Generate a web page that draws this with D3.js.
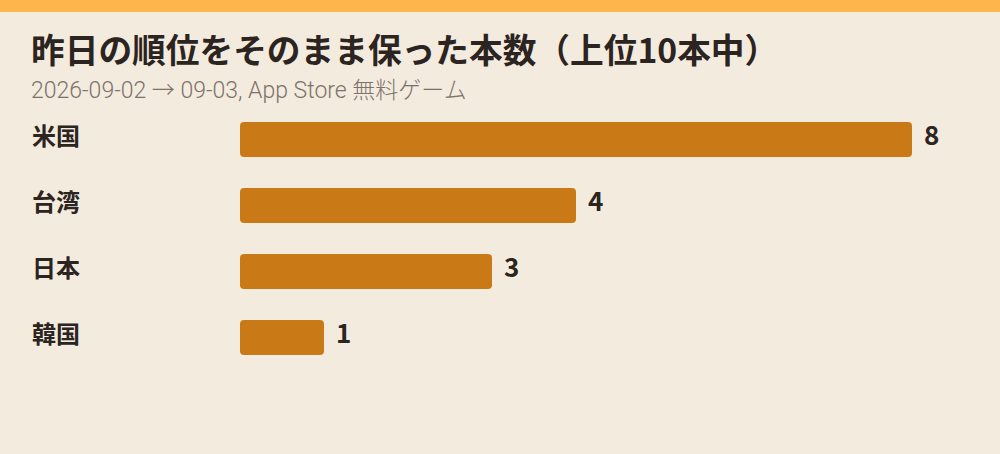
<!DOCTYPE html>
<html>
<head>
<meta charset="utf-8">
<script src="https://cdn.jsdelivr.net/npm/d3@7"></script>
<style>
  body { margin: 0; background: #f4ebdf; }
  svg { display: block; font-family: "Noto Sans CJK JP", "Noto Sans", sans-serif; }
</style>
</head>
<body>
<div id="chart"></div>
<script>
var countries = ["米国", "台湾", "日本", "韓国"];
var kept = [8, 4, 3, 1];

var titleText = "昨日の順位をそのまま保った本数（上位10本中）";
var subtitleText = "2026-09-02 → 09-03, App Store 無料ゲーム";

var svgWidth = 1000;
var svgHeight = 454;

var margin = { top: 122, left: 240 };

var svg = d3.select("#chart")
  .append("svg")
  .attr("width", svgWidth)
  .attr("height", svgHeight);

svg.append("rect")
  .attr("width", svgWidth)
  .attr("height", svgHeight)
  .attr("fill", "#f4ebdf");

// top accent strip
svg.append("rect")
  .attr("width", svgWidth)
  .attr("height", 12)
  .attr("fill", "#fdb64c");

svg.append("text")
  .attr("x", 31)
  .attr("y", 63)
  .attr("font-size", 33.7)
  .attr("font-weight", 700)
  .attr("fill", "#2b2420")
  .text(titleText);

svg.append("text")
  .attr("x", 31)
  .attr("y", 98)
  .attr("font-size", 23)
  .attr("font-weight", 300)
  .attr("font-family", "Roboto, 'Noto Sans CJK JP', sans-serif")
  .attr("fill", "#7d726a")
  .text(subtitleText);

var x = d3.scaleLinear()
  .domain([0, 8])
  .range([0, 672]);

// step 66px, bar 35px
var y = d3.scaleBand()
  .domain(countries)
  .range([0, 233])
  .paddingInner(0.47)
  .paddingOuter(0);

var chartGroup = svg.append("g")
  .attr("transform", `translate(${margin.left}, ${margin.top})`);

var rows = chartGroup.selectAll("g.row")
  .data(countries)
  .enter()
  .append("g")
  .attr("class", "row")
  .attr("transform", d => `translate(0, ${y(d)})`);

rows.append("rect")
  .attr("width", (d, i) => x(kept[i]))
  .attr("height", y.bandwidth())
  .attr("rx", 4)
  .attr("fill", "#c97a16");

rows.append("text")
  .attr("x", (d, i) => x(kept[i]) + 12)
  .attr("y", y.bandwidth() / 2 - 4)
  .attr("dy", "0.36em")
  .attr("font-size", 26)
  .attr("font-weight", 700)
  .attr("fill", "#2b2420")
  .text((d, i) => kept[i]);

rows.append("text")
  .attr("x", 32 - margin.left)
  .attr("y", y.bandwidth() / 2 - 3)
  .attr("dy", "0.36em")
  .attr("font-size", 24)
  .attr("font-weight", 700)
  .attr("fill", "#2b2420")
  .text(d => d);
</script>
</body>
</html>
